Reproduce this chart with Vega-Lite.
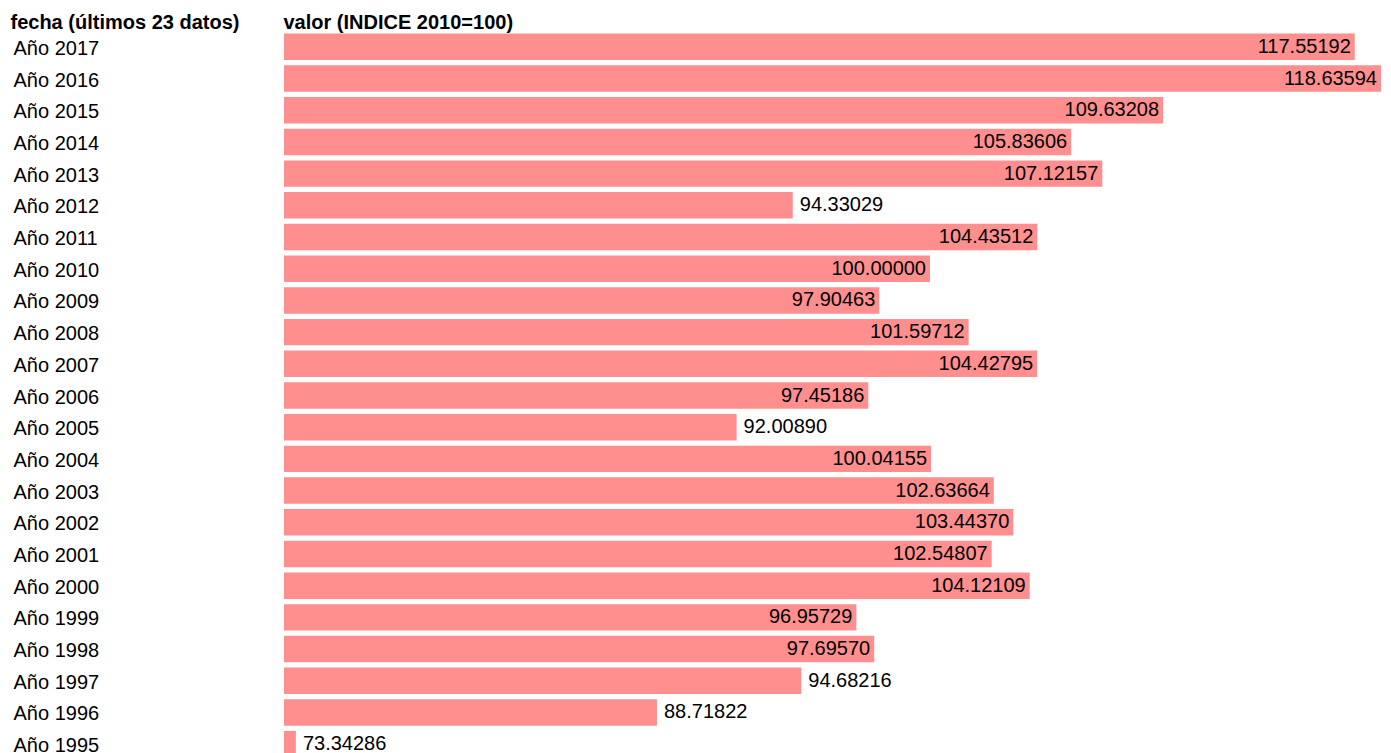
{
  "$schema": "https://vega.github.io/schema/vega-lite/v6.json",
  "width": 1097,
  "height": 729,
  "autosize": {"type": "none"},
  "padding": {"left": 284, "top": 31, "right": 10, "bottom": 0},
  "background": "white",
  "config": {
    "view": {"stroke": null},
    "font": "Liberation Sans"
  },
  "data": {
    "values": [
      {"fecha": "Año 2017", "valor": 117.55192},
      {"fecha": "Año 2016", "valor": 118.63594},
      {"fecha": "Año 2015", "valor": 109.63208},
      {"fecha": "Año 2014", "valor": 105.83606},
      {"fecha": "Año 2013", "valor": 107.12157},
      {"fecha": "Año 2012", "valor": 94.33029},
      {"fecha": "Año 2011", "valor": 104.43512},
      {"fecha": "Año 2010", "valor": 100.00000},
      {"fecha": "Año 2009", "valor": 97.90463},
      {"fecha": "Año 2008", "valor": 101.59712},
      {"fecha": "Año 2007", "valor": 104.42795},
      {"fecha": "Año 2006", "valor": 97.45186},
      {"fecha": "Año 2005", "valor": 92.00890},
      {"fecha": "Año 2004", "valor": 100.04155},
      {"fecha": "Año 2003", "valor": 102.63664},
      {"fecha": "Año 2002", "valor": 103.44370},
      {"fecha": "Año 2001", "valor": 102.54807},
      {"fecha": "Año 2000", "valor": 104.12109},
      {"fecha": "Año 1999", "valor": 96.95729},
      {"fecha": "Año 1998", "valor": 97.69570},
      {"fecha": "Año 1997", "valor": 94.68216},
      {"fecha": "Año 1996", "valor": 88.71822},
      {"fecha": "Año 1995", "valor": 73.34286}
    ]
  },
  "encoding": {
    "y": {
      "field": "fecha",
      "type": "nominal",
      "sort": "descending",
      "scale": {"paddingInner": 0.165, "paddingOuter": 0.0825},
      "axis": {
        "title": "fecha (últimos 23 datos)",
        "titleAngle": 0,
        "titleAlign": "left",
        "titleBaseline": "alphabetic",
        "titleX": -274,
        "titleY": -3,
        "titleFont": "Liberation Sans",
        "titleFontSize": 20,
        "titleFontWeight": "bold",
        "titleColor": "#000000",
        "domain": false,
        "ticks": false,
        "labelPadding": 271,
        "labelAlign": "left",
        "labelBaseline": "middle",
        "labelOffset": 2,
        "labelFont": "Liberation Sans",
        "labelFontSize": 20,
        "labelColor": "#000000"
      }
    },
    "x": {
      "field": "valor",
      "type": "quantitative",
      "scale": {"domain": [73.306, 118.636], "nice": false, "zero": false},
      "axis": {
        "orient": "top",
        "title": "valor (INDICE 2010=100)",
        "titleAlign": "left",
        "titleBaseline": "alphabetic",
        "titleX": -1,
        "titleY": -3,
        "titleFont": "Liberation Sans",
        "titleFontSize": 20,
        "titleFontWeight": "bold",
        "titleColor": "#000000",
        "labels": false,
        "ticks": false,
        "domain": false,
        "grid": false
      }
    }
  },
  "layer": [
    {
      "mark": {"type": "bar", "color": "#ff8f8f", "clip": true}
    },
    {
      "transform": [{"filter": "datum.valor < 80"}],
      "mark": {"type": "tick", "color": "#ff8f8f", "thickness": 22, "size": 26.5, "opacity": 1, "clip": true, "orient": "vertical"}
    },
    {
      "transform": [{"filter": "datum.valor >= 95"}],
      "mark": {"type": "text", "align": "right", "baseline": "middle", "dx": -4, "font": "Liberation Sans", "fontSize": 20, "color": "#000000"},
      "encoding": {"text": {"field": "valor", "type": "quantitative", "format": ".5f"}}
    },
    {
      "transform": [{"filter": "datum.valor < 95 && datum.valor >= 80"}],
      "mark": {"type": "text", "align": "left", "baseline": "middle", "dx": 7, "font": "Liberation Sans", "fontSize": 20, "color": "#000000"},
      "encoding": {"text": {"field": "valor", "type": "quantitative", "format": ".5f"}}
    },
    {
      "transform": [{"filter": "datum.valor < 80"}],
      "mark": {"type": "text", "align": "left", "baseline": "middle", "dx": 18, "font": "Liberation Sans", "fontSize": 20, "color": "#000000"},
      "encoding": {"text": {"field": "valor", "type": "quantitative", "format": ".5f"}}
    }
  ]
}
